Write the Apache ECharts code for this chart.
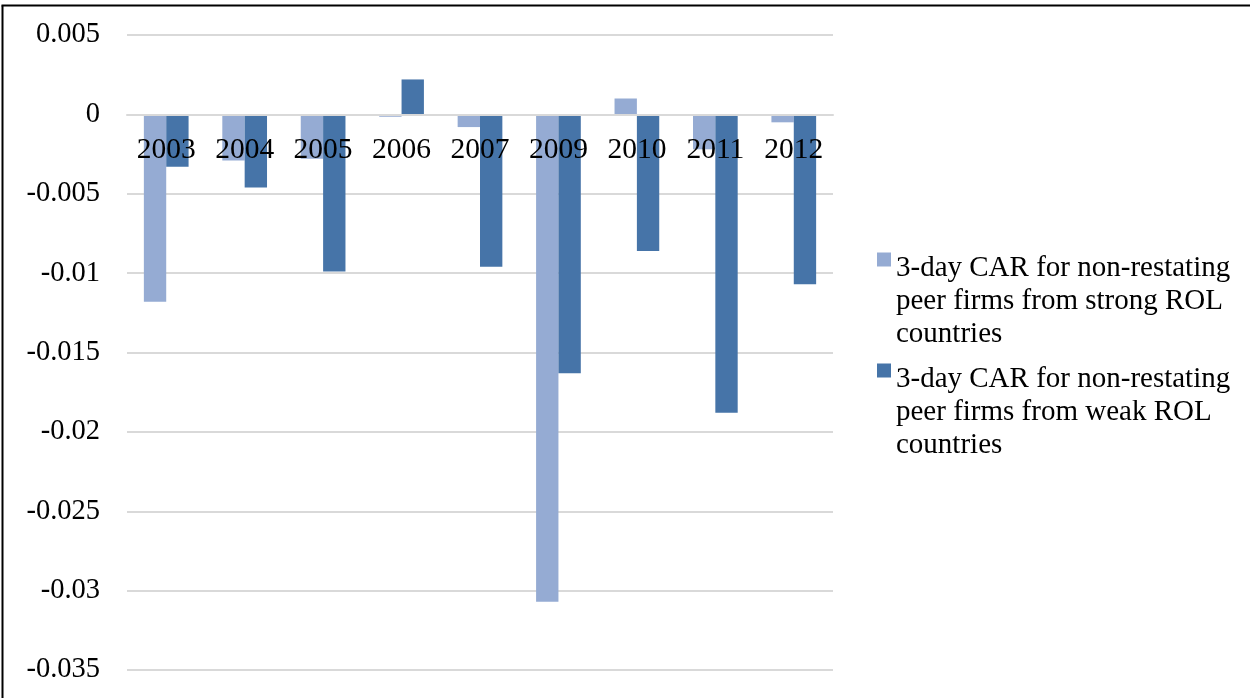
<!DOCTYPE html>
<html>
<head>
<meta charset="utf-8">
<script src="https://cdn.jsdelivr.net/npm/echarts@6/dist/echarts.min.js"></script>
<style>
  html, body { margin: 0; padding: 0; background: #fff; }
  #chart { width: 1260px; height: 698px; }
</style>
</head>
<body>
<div id="chart"></div>
<script>
// data
const years = ['2003', '2004', '2005', '2006', '2007', '2009', '2010', '2011', '2012'];
const strongRol = [-0.0118, -0.0029, -0.0028, -0.00015, -0.0008, -0.0307, 0.001, -0.0022, -0.0005];
const weakRol = [-0.0033, -0.0046, -0.0099, 0.0022, -0.0096, -0.0163, -0.0086, -0.0188, -0.0107];
const seriesNames = [
  '3-day CAR for non-restating\npeer firms from strong ROL\ncountries',
  '3-day CAR for non-restating\npeer firms from weak ROL\ncountries'
];
const yMin = -0.035, yMax = 0.005;

const chart = echarts.init(document.getElementById('chart'));
const font = '"Liberation Serif", "Times New Roman", serif';

// icon with an invisible tail so the square sits on the first text line
const icon = 'path://M0,0H10V10H0Z M0,69.9H0.01V70H0Z';

const gridTop = 35, gridBottom = 28;
const plotH = 698 - gridTop - gridBottom;
// the category axis sits on the zero line
const zeroOffset = -plotH * (0 - yMin) / (yMax - yMin);

chart.setOption({
  animation: false,
  textStyle: { fontFamily: font },
  grid: { left: 127, right: 427, top: gridTop, bottom: gridBottom, containLabel: false, outerBoundsMode: 'none' },
  legend: {
    orient: 'vertical',
    left: 872,
    top: 247,
    itemGap: 12,
    itemWidth: 14,
    itemHeight: 98,
    icon: icon,
    textStyle: { fontFamily: font, fontSize: 29, color: '#000', lineHeight: 33, padding: [0, 0, 0, 0] },
    data: seriesNames
  },
  xAxis: {
    type: 'category',
    data: years,
    z: 5,
    offset: zeroOffset,
    axisLine: { onZero: false, lineStyle: { color: '#d9d9d9', width: 2 } },
    axisTick: { show: false },
    axisLabel: { fontFamily: font, fontSize: 29.5, color: '#000', margin: 21, interval: 0 }
  },
  yAxis: {
    type: 'value',
    min: yMin,
    max: yMax,
    interval: 0.005,
    axisLine: { show: false },
    axisTick: { show: false },
    splitLine: { lineStyle: { color: '#d9d9d9', width: 2 } },
    axisLabel: {
      fontFamily: font, fontSize: 28.5, color: '#000', margin: 27,
      formatter: v => String(parseFloat(v.toFixed(3)))
    }
  },
  series: [
    { name: seriesNames[0], type: 'bar', data: strongRol, barGap: '0%', barCategoryGap: '43%',
      itemStyle: { color: '#95abd3' } },
    { name: seriesNames[1], type: 'bar', data: weakRol,
      itemStyle: { color: '#4674a8' } }
  ],
  graphic: [
    { type: 'line', shape: { x1: 2.5, y1: 5.5, x2: 2.5, y2: 698 }, style: { stroke: '#000', lineWidth: 2 } },
    { type: 'line', shape: { x1: 1.5, y1: 5.5, x2: 1250, y2: 5.5 }, style: { stroke: '#000', lineWidth: 2 } }
  ]
});
</script>
</body>
</html>
